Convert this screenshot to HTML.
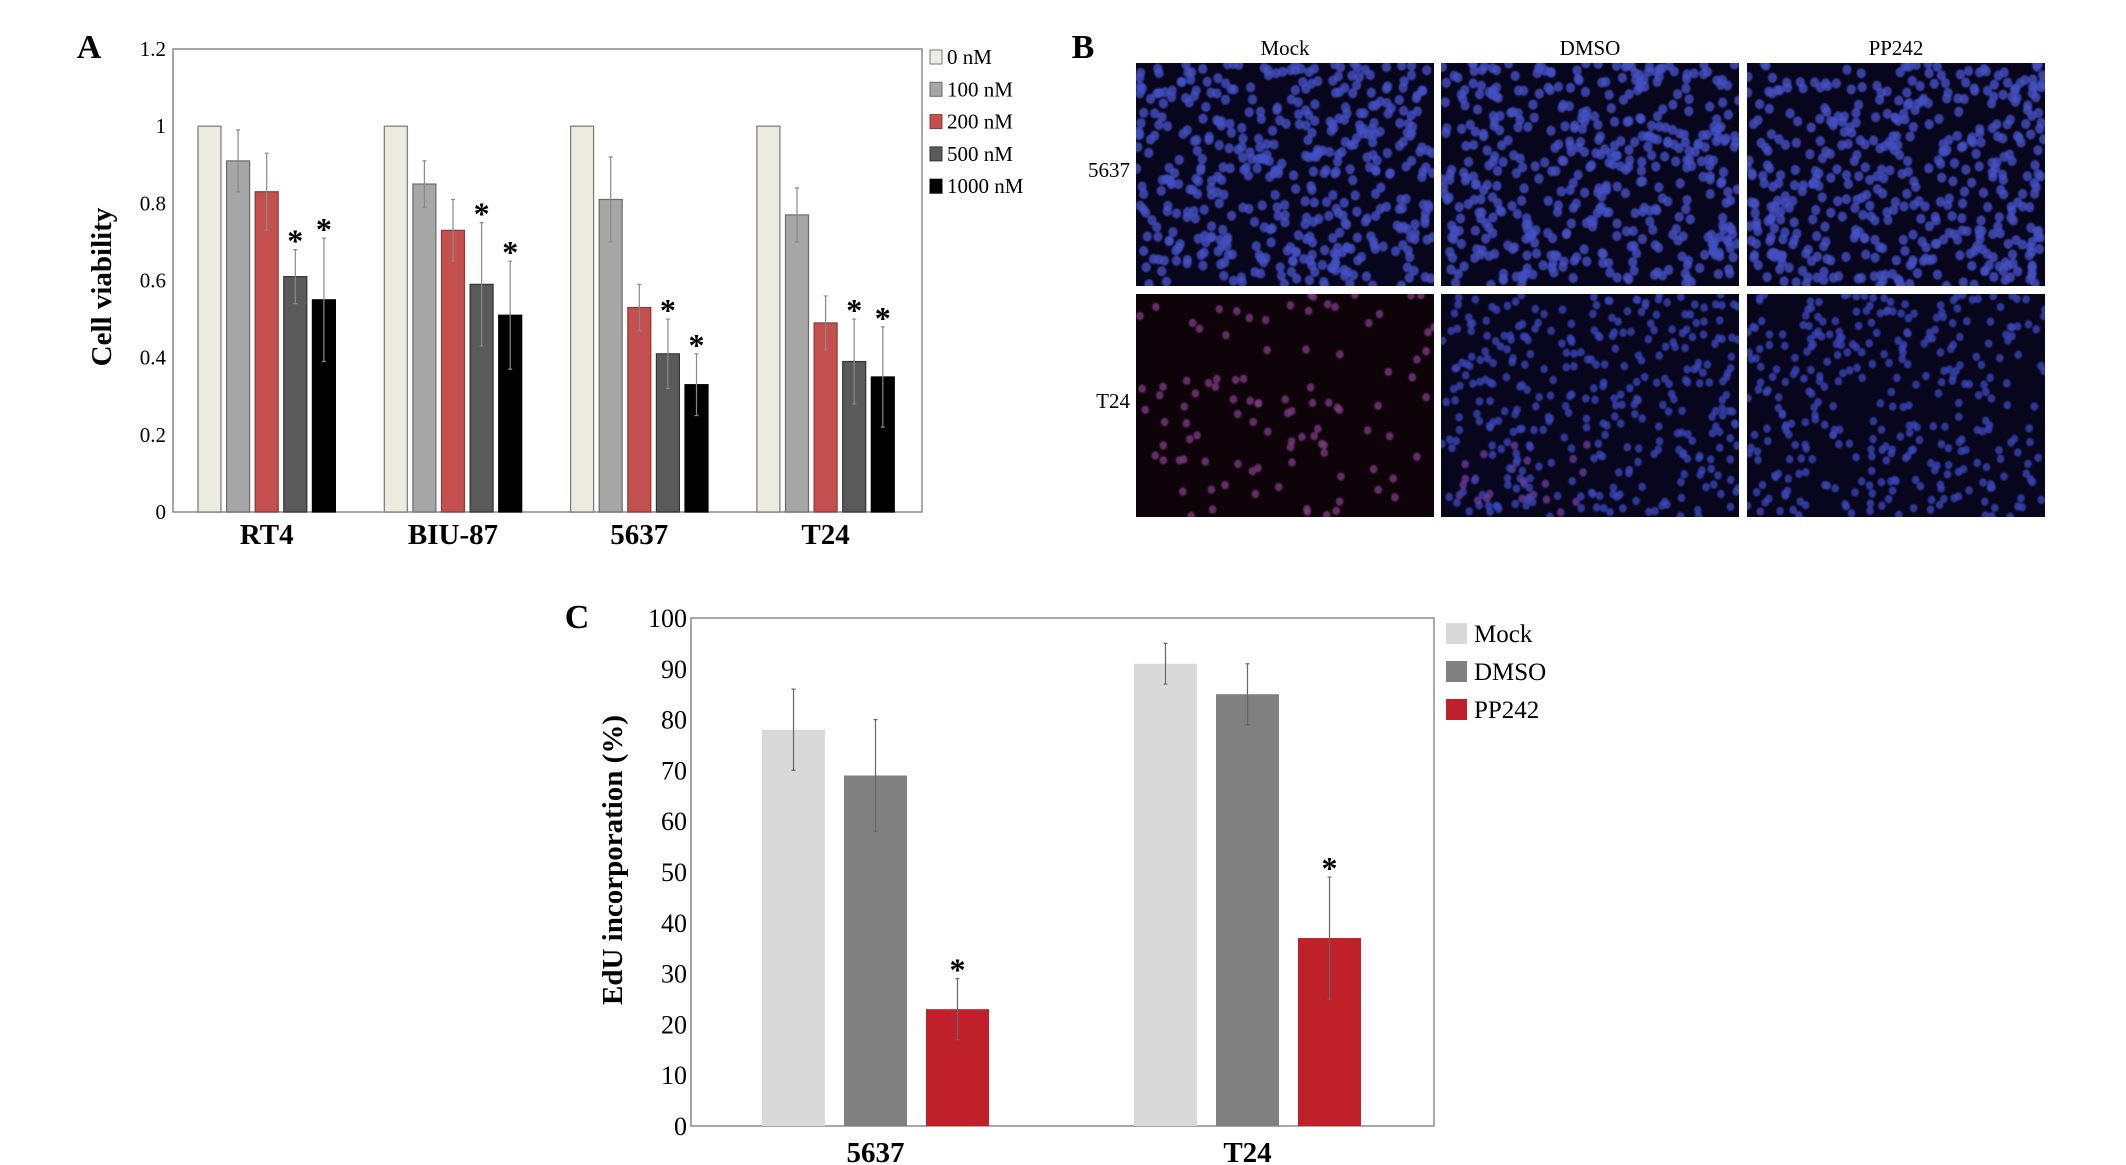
<!DOCTYPE html>
<html><head><meta charset="utf-8"><style>
html,body{margin:0;padding:0;background:#fff;}
svg{display:block;font-family:"Liberation Serif",serif;}
</style></head><body>
<svg id="fig" width="2126" height="1165" viewBox="0 0 2126 1165" xmlns="http://www.w3.org/2000/svg">
<defs id="defs0"><filter id="blur1"><feGaussianBlur stdDeviation="0.9"/></filter></defs>
<rect width="2126" height="1165" fill="#fff"/>
<g id="panelA"></g>
<g id="panelB"></g>
<g id="panelC"></g>
</svg>
<script>
// ---- Panel A data ----
const aCategories = ["RT4", "BIU-87", "5637", "T24"];
const aSeriesNames = ["0 nM", "100 nM", "200 nM", "500 nM", "1000 nM"];
const aVal0 = [1, 1, 1, 1];
const aVal100 = [0.91, 0.85, 0.81, 0.77];
const aVal200 = [0.83, 0.73, 0.53, 0.49];
const aVal500 = [0.61, 0.59, 0.41, 0.39];
const aVal1000 = [0.55, 0.51, 0.33, 0.35];
const aErr0 = [0, 0, 0, 0];
const aErr100 = [0.08, 0.06, 0.11, 0.07];
const aErr200 = [0.10, 0.08, 0.06, 0.07];
const aErr500 = [0.07, 0.16, 0.09, 0.11];
const aErr1000 = [0.16, 0.14, 0.08, 0.13];
const aStar500 = [true, true, true, true];
const aStar1000 = [true, true, true, true];
const aTicks = ["0", "0.2", "0.4", "0.6", "0.8", "1", "1.2"];
const aTickVals = [0, 0.2, 0.4, 0.6, 0.8, 1, 1.2];

// ---- Panel C data ----
const cCategories = ["5637", "T24"];
const cSeriesNames = ["Mock", "DMSO", "PP242"];
const cMock = [78, 91];
const cDMSO = [69, 85];
const cPP242 = [23, 37];
const cErrMock = [8, 4];
const cErrDMSO = [11, 6];
const cErrPP242 = [6, 12];
const cStarPP242 = [true, true];
const cTicks = ["0","10","20","30","40","50","60","70","80","90","100"];
const cTickVals = [0,10,20,30,40,50,60,70,80,90,100];

const NS = "http://www.w3.org/2000/svg";
function mk(parent, tag, attrs, text) {
  const e = document.createElementNS(NS, tag);
  for (const k in attrs) e.setAttribute(k, attrs[k]);
  if (text !== undefined) e.textContent = text;
  parent.appendChild(e);
  return e;
}

// ================= Panel A =================
(function(){
  const g = document.getElementById('panelA');
  const x0 = 173, x1 = 922, yTop = 49, yBot = 512;
  const yMax = 1.2;
  const y = v => yBot - (v / yMax) * (yBot - yTop);
  const groupStart = i => 198 + i * 186.3;
  const barStep = 28.6, barW = 23;
  let t;
  t = mk(g, 'text', {x: 89, y: 58, 'font-size': 34, 'font-weight': 'bold', 'text-anchor': 'middle'}, 'A');
  
  
  const frame = mk(g, 'rect', {x: x0, y: yTop, width: x1 - x0, height: yBot - yTop, fill: 'none', stroke: '#8a8a8a', 'stroke-width': 1.5});
  
  
  aTickVals.forEach((v, i) => {
    const tl = mk(g, 'text', {x: 166, y: y(v) + 7, 'font-size': 21, 'text-anchor': 'end'}, aTicks[i]);
    
    
  });
  const yt = mk(g, 'text', {x: 0, y: 0, 'font-size': 29, 'font-weight': 'bold', 'text-anchor': 'middle', transform: 'translate(111,287) rotate(-90)'}, 'Cell viability');
  
  
  const series = [aVal0, aVal100, aVal200, aVal500, aVal1000];
  const errs = [aErr0, aErr100, aErr200, aErr500, aErr1000];
  const stars = [null, null, null, aStar500, aStar1000];
  const fills = ['#ecebdf', '#a6a6a6', '#c3504e', '#5a5a5a', '#000000'];
  const strokes = ['#777', '#6a6a6a', '#8a3a38', '#333', '#000'];
  aCategories.forEach((cat, ci) => {
    series.forEach((s, si) => {
      const bx = groupStart(ci) + si * barStep;
      const v = s[ci];
      const b = mk(g, 'rect', {x: bx, y: y(v), width: barW, height: yBot - y(v), fill: fills[si], stroke: strokes[si], 'stroke-width': 1.2});
      
      
      const e = errs[si][ci];
      const cx = bx + barW / 2;
      if (e > 0) {
        const eb = mk(g, 'path', {d: `M${cx},${y(v - e)}V${y(v + e)}M${cx - 2},${y(v + e)}H${cx + 2}M${cx - 2},${y(v - e)}H${cx + 2}`, stroke: '#888', 'stroke-width': 1.2, fill: 'none'});
        
        
      }
      if (stars[si] && stars[si][ci]) {
        const st = mk(g, 'text', {x: cx, y: y(v + e) + 2, 'font-size': 32, 'font-weight': 'bold', 'text-anchor': 'middle'}, '*');
        
        
      }
    });
    const cl = mk(g, 'text', {x: groupStart(ci) + 2 * barStep + barW / 2, y: 544, 'font-size': 29, 'font-weight': 'bold', 'text-anchor': 'middle'}, cat);
    
    
  });
  aSeriesNames.forEach((n, i) => {
    const ly = 57 + i * 32.3;
    const sw = mk(g, 'rect', {x: 930, y: ly - 7, width: 12, height: 14, fill: fills[i], stroke: strokes[i], 'stroke-width': 1});
    
    
    const lt = mk(g, 'text', {x: 947, y: ly + 7, 'font-size': 21}, n);
    
    
  });
})();

// ================= Panel B (micrographs) =================
(function(){
  const g = document.getElementById('panelB');
  let t = mk(g, 'text', {x: 1083, y: 58, 'font-size': 34, 'font-weight': 'bold', 'text-anchor': 'middle'}, 'B');
  
  
  const cols = ["Mock", "DMSO", "PP242"];
  const rows = ["5637", "T24"];
  const colX = [1136, 1441, 1747];
  const rowY = [63, 294];
  const W = 298, H = 223;
  cols.forEach((c, i) => {
    const ct = mk(g, 'text', {x: colX[i] + W / 2, y: 55, 'font-size': 21, 'text-anchor': 'middle'}, c);
    
    
  });
  rows.forEach((r, j) => {
    const rt = mk(g, 'text', {x: 1130, y: rowY[j] + 114, 'font-size': 21, 'text-anchor': 'end'}, r);
    
    
  });
  let seed = 12345;
  const rnd = () => { seed = (seed * 1103515245 + 12345) % 2147483648; return seed / 2147483648; };
  const defs = document.getElementById('defs0');
  rows.forEach((r, j) => {
    cols.forEach((c, i) => {
      const id = 'clip' + i + j;
      const cp = mk(defs, 'clipPath', {id});
      mk(cp, 'rect', {x: colX[i], y: rowY[j], width: W, height: H});
      const cell = mk(g, 'g', {'clip-path': `url(#${id})`});
      
      
      const redish = (j === 1 && i === 0);
      mk(cell, 'rect', {x: colX[i], y: rowY[j], width: W, height: H, fill: redish ? '#0e0308' : '#07061c'});
      const dots = mk(cell, 'g', {filter: 'url(#blur1)'});
      const n = j === 0 ? 460 : (i === 0 ? 100 : (i === 1 ? 360 : 330));
      const rad = j === 0 ? 4.6 : 3.8;
      for (let k = 0; k < n; k++) {
        const cx = colX[i] + rnd() * W, cy = rowY[j] + rnd() * H;
        let col = redish ? '#7a3a80' : (j === 1 ? '#3a46b8' : '#4350c4');
        if (j === 1 && i === 1 && cy > rowY[j] + 150 && cx < colX[i] + 150 && rnd() < 0.4) col = '#6a3a98';
        mk(dots, 'ellipse', {cx, cy, rx: rad, ry: rad * 1.1, fill: col, opacity: 0.8});
      }
    });
  });
})();

// ================= Panel C =================
(function(){
  const g = document.getElementById('panelC');
  const x0 = 691, x1 = 1434, yTop = 618, yBot = 1126;
  const y = v => yBot - (v / 100) * (yBot - yTop);
  const groupStart = i => 762 + i * 372;
  const barStep = 82, barW = 63;
  let t = mk(g, 'text', {x: 577, y: 628, 'font-size': 34, 'font-weight': 'bold', 'text-anchor': 'middle'}, 'C');
  
  
  const frame = mk(g, 'rect', {x: x0, y: yTop, width: x1 - x0, height: yBot - yTop, fill: 'none', stroke: '#8a8a8a', 'stroke-width': 1.5});
  
  
  cTickVals.forEach((v, i) => {
    const tl = mk(g, 'text', {x: 687, y: y(v) + 9, 'font-size': 26, 'text-anchor': 'end'}, cTicks[i]);
    
    
  });
  const yt = mk(g, 'text', {x: 0, y: 0, 'font-size': 29, 'font-weight': 'bold', 'text-anchor': 'middle', transform: 'translate(622,860) rotate(-90)'}, 'EdU incorporation (%)');
  
  
  const series = [cMock, cDMSO, cPP242];
  const errs = [cErrMock, cErrDMSO, cErrPP242];
  const stars = [null, null, cStarPP242];
  const fills = ['#d9d9d9', '#808080', '#c0202a'];
  cCategories.forEach((cat, ci) => {
    series.forEach((s, si) => {
      const bx = groupStart(ci) + si * barStep;
      const v = s[ci];
      const b = mk(g, 'rect', {x: bx, y: y(v), width: barW, height: yBot - y(v), fill: fills[si]});
      
      
      const e = errs[si][ci];
      const cx = bx + barW / 2;
      const eb = mk(g, 'path', {d: `M${cx},${y(v - e)}V${y(v + e)}M${cx - 2},${y(v + e)}H${cx + 2}M${cx - 2},${y(v - e)}H${cx + 2}`, stroke: '#666', 'stroke-width': 1.2, fill: 'none'});
      
      
      if (stars[si] && stars[si][ci]) {
        const st = mk(g, 'text', {x: cx, y: y(v + e) + 2, 'font-size': 32, 'font-weight': 'bold', 'text-anchor': 'middle'}, '*');
        
        
      }
    });
    const cl = mk(g, 'text', {x: groupStart(ci) + barStep + barW / 2, y: 1162, 'font-size': 29, 'font-weight': 'bold', 'text-anchor': 'middle'}, cat);
    
    
  });
  cSeriesNames.forEach((n, i) => {
    const ly = 633 + i * 38;
    const sw = mk(g, 'rect', {x: 1446, y: ly - 10, width: 21, height: 21, fill: fills[i]});
    
    
    const lt = mk(g, 'text', {x: 1474, y: ly + 9, 'font-size': 25}, n);
    
    
  });
})();
</script>
</body></html>
